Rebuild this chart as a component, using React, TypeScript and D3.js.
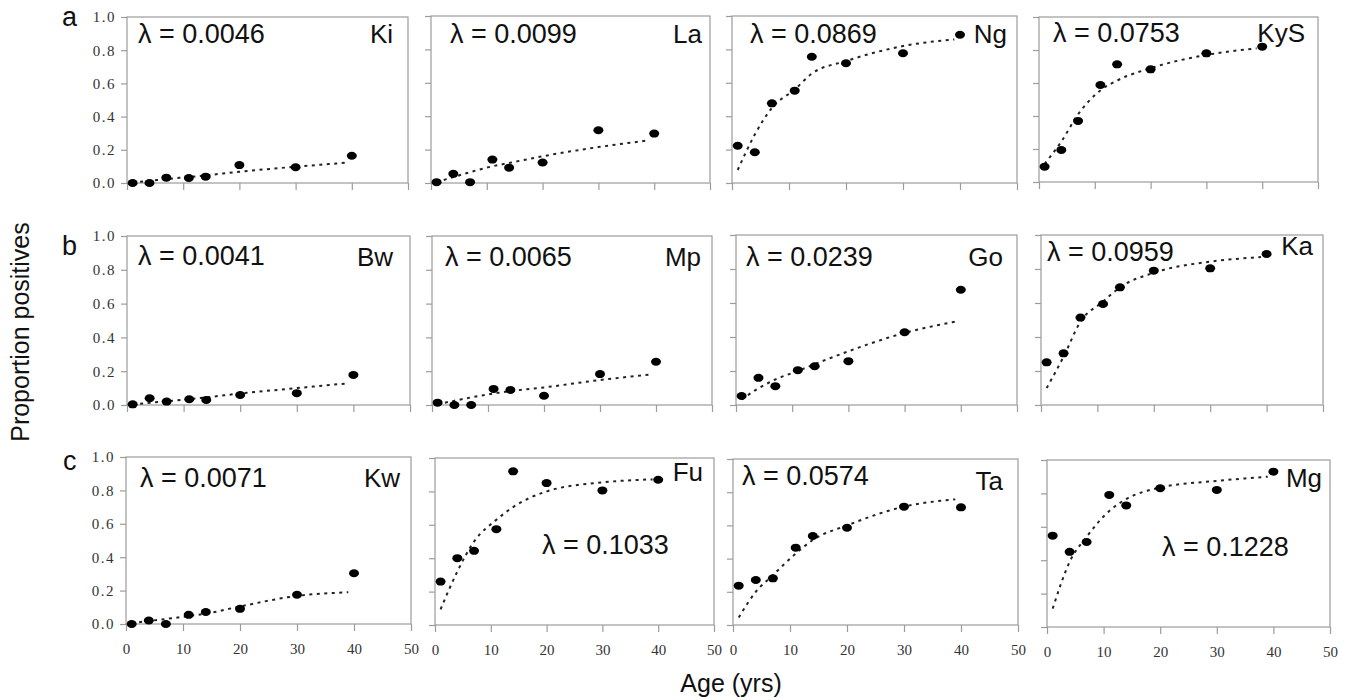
import React, { useEffect, useRef } from 'react';
import * as d3 from 'd3';

// sites, row letters and fitted force of infection
const sites = ['Ki', 'La', 'Ng', 'KyS', 'Bw', 'Mp', 'Go', 'Ka', 'Kw', 'Fu', 'Ta', 'Mg'];
const lambdas = ['0.0046', '0.0099', '0.0869', '0.0753', '0.0041', '0.0065', '0.0239', '0.0959', '0.0071', '0.1033', '0.0574', '0.1228'];
const rowLetters = ['a', 'b', 'c'];

// age groups (yrs) of the observed proportions and of the fitted curve
const ageGroups = [1, 4, 7, 11, 14, 20, 30, 40];
const fitAges = [1, 4, 7, 11, 14, 20, 30, 39];

// observed proportion positives
const kiObs = [0.0, 0.0, 0.032, 0.03, 0.038, 0.108, 0.095, 0.164];
const laObs = [0.005, 0.055, 0.005, 0.14, 0.092, 0.123, 0.316, 0.296];
const ngObs = [0.223, 0.184, 0.477, 0.553, 0.756, 0.717, 0.777, 0.888];
const kysObs = [0.093, 0.194, 0.37, 0.588, 0.713, 0.683, 0.78, 0.82];
const bwObs = [0.004, 0.04, 0.02, 0.034, 0.03, 0.059, 0.07, 0.178];
const mpObs = [0.014, 0.0, 0.0, 0.095, 0.089, 0.055, 0.183, 0.256];
const goObs = [0.053, 0.16, 0.111, 0.205, 0.228, 0.258, 0.428, 0.678];
const kaObs = [0.251, 0.304, 0.514, 0.594, 0.692, 0.79, 0.804, 0.888];
const kwObs = [0.0, 0.021, 0.0, 0.055, 0.072, 0.091, 0.175, 0.304];
const fuObs = [0.26, 0.4, 0.444, 0.574, 0.92, 0.85, 0.806, 0.87];
const taObs = [0.237, 0.271, 0.281, 0.466, 0.536, 0.586, 0.713, 0.709];
const mgObs = [0.547, 0.45, 0.509, 0.791, 0.728, 0.831, 0.821, 0.93];

// fitted curves (dotted)
const kiFit = [0.003, 0.013, 0.024, 0.036, 0.046, 0.068, 0.098, 0.122];
const laFit = [0.005, 0.035, 0.065, 0.1, 0.12, 0.16, 0.215, 0.255];
const ngFit = [0.078, 0.29, 0.45, 0.56, 0.655, 0.73, 0.82, 0.86];
const kysFit = [0.11, 0.245, 0.41, 0.555, 0.615, 0.69, 0.77, 0.81];
const bwFit = [0.003, 0.013, 0.022, 0.035, 0.045, 0.068, 0.1, 0.128];
const mpFit = [0.005, 0.025, 0.045, 0.068, 0.082, 0.104, 0.148, 0.18];
const goFit = [0.033, 0.098, 0.15, 0.2, 0.24, 0.316, 0.424, 0.49];
const kaFit = [0.1, 0.284, 0.49, 0.608, 0.692, 0.778, 0.843, 0.87];
const kwFit = [0.005, 0.018, 0.03, 0.048, 0.062, 0.105, 0.168, 0.19];
const fuFit = [0.094, 0.32, 0.5, 0.63, 0.706, 0.8, 0.854, 0.872];
const taFit = [0.045, 0.2, 0.3, 0.43, 0.512, 0.6, 0.713, 0.757];
const mgFit = [0.11, 0.39, 0.54, 0.695, 0.766, 0.835, 0.875, 0.9];

const observed = [kiObs, laObs, ngObs, kysObs, bwObs, mpObs, goObs, kaObs, kwObs, fuObs, taObs, mgObs];
const fitted = [kiFit, laFit, ngFit, kysFit, bwFit, mpFit, goFit, kaFit, kwFit, fuFit, taFit, mgFit];

const xTicks = [0, 10, 20, 30, 40, 50];
const yTicks = [0, 0.2, 0.4, 0.6, 0.8, 1.0];

// panel frames and where the two labels sit (lambda: start, site: end)
const panels = [
  { x0: 127, x1: 408, y0: 17, y1: 183, lam: [138, 43], site: [393, 43] },
  { x0: 431, x1: 710, y0: 16, y1: 183, lam: [450, 43], site: [702, 43] },
  { x0: 732, x1: 1017, y0: 16, y1: 183, lam: [750, 43], site: [1007, 43] },
  { x0: 1039, x1: 1318, y0: 17, y1: 182, lam: [1053, 42], site: [1305, 42] },
  { x0: 127, x1: 410, y0: 236, y1: 405, lam: [138, 265], site: [393, 266] },
  { x0: 432, x1: 712, y0: 236, y1: 405, lam: [445, 266], site: [701, 266] },
  { x0: 736, x1: 1017, y0: 235, y1: 405, lam: [746, 266], site: [1003, 266] },
  { x0: 1041, x1: 1323, y0: 235, y1: 405, lam: [1047, 261], site: [1313, 255] },
  { x0: 126, x1: 411, y0: 457, y1: 624, lam: [140, 487], site: [400, 487] },
  { x0: 435, x1: 714, y0: 458, y1: 625, lam: [542, 554], site: [703, 481] },
  { x0: 733, x1: 1018, y0: 459, y1: 625, lam: [742, 485], site: [1003, 490] },
  { x0: 1047, x1: 1330, y0: 460, y1: 627, lam: [1162, 556], site: [1322, 487] },
];
const letterPos = [[62, 26], [62, 255], [63, 470]];

const App = () => {
  const svgRef = useRef<SVGSVGElement>(null);

  useEffect(() => {
    const svg = d3.select(svgRef.current);
    svg.selectAll('*').remove();

    const sans = "'Liberation Sans', Arial, sans-serif";
    const serif = "'Liberation Serif', 'Times New Roman', serif";
    const grey = '#9c9c9c';

    panels.forEach((p, i) => {
      const row = Math.floor(i / 4);
      const col = i % 4;
      const x = d3.scaleLinear().domain([0, 50]).range([p.x0, p.x1]);
      const y = d3.scaleLinear().domain([0, 1]).range([p.y1, p.y0]);
      const g = svg.append('g');

      g.append('rect')
        .attr('x', p.x0)
        .attr('y', p.y0)
        .attr('width', p.x1 - p.x0)
        .attr('height', p.y1 - p.y0)
        .attr('fill', 'none')
        .attr('stroke', grey)
        .attr('stroke-width', 1.2);

      // y axis
      const ya = g
        .append('g')
        .attr('transform', `translate(${p.x0},0)`)
        .call(
          d3
            .axisLeft(y)
            .tickValues(yTicks)
            .tickSize(6)
            .tickPadding(5)
            .tickFormat((d) => (col === 0 ? d3.format('.1f')(d as number) : ''))
        )
        .attr('font-family', serif)
        .attr('font-size', 15);
      ya.select('.domain').remove();
      ya.selectAll('line').attr('stroke', grey).attr('stroke-width', 1.2);
      ya.selectAll('text').attr('fill', '#333').attr('letter-spacing', 1.5);

      // x axis
      const xa = g
        .append('g')
        .attr('transform', `translate(0,${p.y1})`)
        .call(
          d3
            .axisBottom(x)
            .tickValues(xTicks)
            .tickSize(7)
            .tickPadding(12)
            .tickFormat((d) => (row === 2 ? String(d) : ''))
        )
        .attr('font-family', serif)
        .attr('font-size', 15);
      xa.select('.domain').remove();
      xa.selectAll('line').attr('stroke', grey).attr('stroke-width', 1.2);
      xa.selectAll('text').attr('fill', '#333');

      // fitted curve
      const line = d3
        .line<number>()
        .x((d, k) => x(fitAges[k]))
        .y((d) => y(d))
        .curve(d3.curveMonotoneX);
      g.append('path')
        .attr('d', line(fitted[i]))
        .attr('fill', 'none')
        .attr('stroke', '#222')
        .attr('stroke-width', 2)
        .attr('stroke-dasharray', '3,4.5');

      // observed points
      g.selectAll('ellipse')
        .data(observed[i])
        .enter()
        .append('ellipse')
        .attr('cx', (d, k) => x(ageGroups[k]))
        .attr('cy', (d) => y(d))
        .attr('rx', 5)
        .attr('ry', 4)
        .attr('fill', '#000');

      g.append('text')
        .attr('x', p.lam[0])
        .attr('y', p.lam[1])
        .style('font-family', sans)
        .style('font-size', '27px')
        .attr('fill', '#111')
        .text(`λ = ${lambdas[i]}`);

      g.append('text')
        .attr('x', p.site[0])
        .attr('y', p.site[1])
        .attr('text-anchor', 'end')
        .style('font-family', sans)
        .style('font-size', '26px')
        .attr('fill', '#111')
        .text(sites[i]);
    });

    rowLetters.forEach((l, r) => {
      svg.append('text')
        .attr('x', letterPos[r][0])
        .attr('y', letterPos[r][1])
        .style('font-family', sans)
        .style('font-size', '27px')
        .attr('fill', '#111')
        .text(l);
    });

    svg.append('text')
      .attr('transform', 'translate(29,332) rotate(-90)')
      .attr('text-anchor', 'middle')
      .style('font-family', sans)
      .style('font-size', '25px')
      .attr('fill', '#111')
      .text('Proportion positives');

    svg.append('text')
      .attr('x', 731)
      .attr('y', 692)
      .attr('text-anchor', 'middle')
      .style('font-family', sans)
      .style('font-size', '25px')
      .attr('fill', '#111')
      .text('Age (yrs)');
  }, []);

  return (
    <svg
      ref={svgRef}
      width={1348}
      height={700}
      style={{ position: 'absolute', left: 0, top: 0, background: '#fff' }}
    />
  );
};

export default App;
